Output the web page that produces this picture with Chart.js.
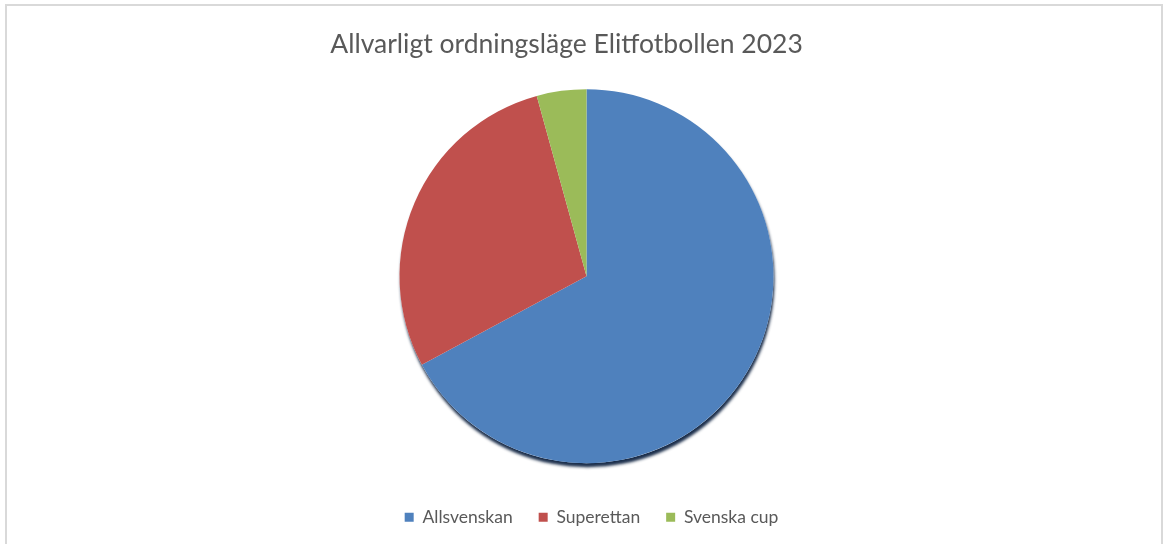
<!DOCTYPE html>
<html>
<head>
<meta charset="utf-8">
<script src="https://cdn.jsdelivr.net/npm/chart.js@4"></script>
<style>
  html, body { margin: 0; padding: 0; background: #fff; overflow: hidden; }
  #frame {
    position: absolute; left: 5px; top: 4px;
    width: 1158px; height: 600px;
    border: 2px solid #d9d9d9; box-sizing: border-box;
  }
  #wrap { position: absolute; left: 0; top: 0; width: 1165px; height: 544px; }
</style>
</head>
<body>
<div id="frame"></div>
<div id="wrap"><canvas id="pieChart"></canvas></div>
<script>
// Data
const categories = ['Allsvenskan', 'Superettan', 'Svenska cup'];
const values     = [47, 20, 3];
const colors     = ['#4F81BD', '#C0504D', '#9BBB59'];

const TEXT = '#595959';

// drop shadow under the whole pie (only outer edge), like the Office chart
const pieShadow = {
  id: 'pieShadow',
  beforeDatasetsDraw(chart) {
    const arc = chart.getDatasetMeta(0).data[0];
    if (!arc) return;
    const ctx = chart.ctx;
    ctx.save();
    ctx.shadowColor   = 'rgba(15,35,65,0.95)';
    ctx.shadowBlur    = 3;
    ctx.shadowOffsetX = 1;
    ctx.shadowOffsetY = 4;
    ctx.fillStyle = '#ffffff';
    ctx.beginPath();
    ctx.arc(arc.x, arc.y, arc.outerRadius, 0, Math.PI * 2);
    ctx.fill();
    ctx.restore();
  },
};

// the Office title sits a bit left of the pie centre, the legend a bit right
const blockNudge = {
  id: 'blockNudge',
  afterLayout(chart) {
    if (chart.titleBlock) chart.titleBlock.left -= 40;
    if (chart.legend) {
      chart.legend.left  += 5;
      chart.legend.right += 5;
    }
  },
};

new Chart(document.getElementById('pieChart'), {
  type: 'pie',
  data: {
    labels: categories,
    datasets: [{
      data: values,
      backgroundColor: colors,
      borderWidth: 0,
      radius: 187,
    }],
  },
  options: {
    responsive: true,
    maintainAspectRatio: false,
    animation: false,
    layout: { padding: { top: 0, bottom: 8, left: 8 } },
    plugins: {
      title: {
        display: true,
        text: 'Allvarligt ordningsläge Elitfotbollen 2023',
        color: TEXT,
        font: { size: 26.5, family: 'Lato', weight: 'normal' },
        padding: { top: 29, bottom: 9 },
      },
      legend: {
        position: 'bottom',
        labels: {
          color: TEXT,
          font: { size: 17.5, family: 'Lato' },
          boxWidth: 9,
          boxHeight: 9,
          padding: 26,
        },
      },
      tooltip: { enabled: false },
    },
  },
  plugins: [pieShadow, blockNudge],
});
</script>
</body>
</html>
